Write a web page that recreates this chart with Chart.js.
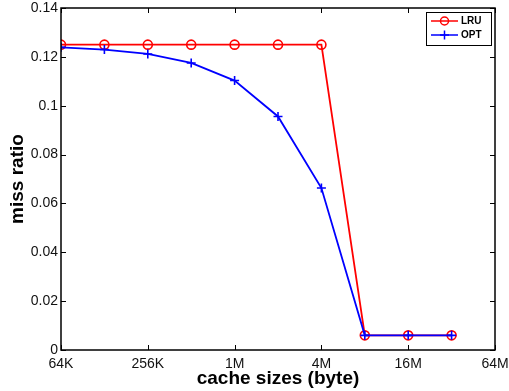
<!DOCTYPE html>
<html>
<head>
<meta charset="utf-8">
<script src="https://cdn.jsdelivr.net/npm/chart.js@4/dist/chart.umd.min.js"></script>
<style>
  html, body { margin: 0; padding: 0; background: #fff; }
  #wrap { width: 509px; height: 391px; }
</style>
</head>
<body>
<div id="wrap"><canvas id="myChart" width="509" height="391"></canvas></div>
<script>
// cache sizes in bytes, 64K .. 32M doubling
var K = 1024, M = 1024 * 1024;
var sizes = [64 * K, 128 * K, 256 * K, 512 * K, 1 * M, 2 * M, 4 * M, 8 * M, 16 * M, 32 * M];
var lru = [0.125, 0.125, 0.125, 0.125, 0.125, 0.125, 0.125, 0.006, 0.006, 0.006];
var opt = [0.1239, 0.1230, 0.1212, 0.1175, 0.1103, 0.0956, 0.0663, 0.006, 0.006, 0.006];
var xTicks = [64 * K, 256 * K, 1 * M, 4 * M, 16 * M, 64 * M];
var xTickLabels = ['64K', '256K', '1M', '4M', '16M', '64M'];
var yTicks = [0, 0.02, 0.04, 0.06, 0.08, 0.1, 0.12, 0.14];

function pts(ys) {
  var out = [];
  for (i = 0; i < sizes.length; i++) out.push({ x: sizes[i], y: ys[i] });
  return out;
}

var FONT = '"Liberation Sans", Arial, Helvetica, sans-serif';

// matlab style box: frame plus inward ticks on all four sides
var boxPlugin = {
  id: 'box',
  afterDatasetsDraw: function(chart) {
    var c = chart.ctx, a = chart.chartArea;
    var xs = chart.scales.x, ys = chart.scales.y;
    var L = 5;
    c.save();
    c.strokeStyle = '#000';
    c.lineWidth = 1;
    c.beginPath();
    xTicks.forEach(function(v) {
      var px = Math.round(xs.getPixelForValue(v)) + 0.5;
      c.moveTo(px, a.bottom); c.lineTo(px, a.bottom - L);
      c.moveTo(px, a.top); c.lineTo(px, a.top + L);
    });
    yTicks.forEach(function(v) {
      var py = Math.round(ys.getPixelForValue(v)) + 0.5;
      c.moveTo(a.left, py); c.lineTo(a.left + L, py);
      c.moveTo(a.right, py); c.lineTo(a.right - L, py);
    });
    c.stroke();
    c.lineWidth = 1.5;
    c.strokeRect(a.left, a.top, a.right - a.left, a.bottom - a.top);
    c.restore();
  }
};

// legend box in the upper right corner
var legendPlugin = {
  id: 'mlegend',
  afterDraw: function(chart) {
    var c = chart.ctx, a = chart.chartArea;
    var w = 65, h = 33;
    var x0 = a.right - w - 4, y0 = a.top + 4;
    c.save();
    c.fillStyle = '#fff';
    c.fillRect(x0, y0, w, h);
    c.strokeStyle = '#000';
    c.lineWidth = 1;
    c.strokeRect(x0 + 0.5, y0 + 0.5, w, h);
    c.font = 'bold 10px ' + FONT;
    c.textBaseline = 'middle';
    chart.data.datasets.forEach(function(ds, k) {
      var yy = y0 + 9 + k * 14;
      c.strokeStyle = ds.borderColor;
      c.lineWidth = 1.5;
      c.beginPath();
      c.moveTo(x0 + 5, yy); c.lineTo(x0 + 32, yy);
      c.stroke();
      c.beginPath();
      if (ds.pointStyle === 'circle') {
        c.arc(x0 + 18.5, yy, 4, 0, Math.PI * 2);
      } else {
        c.moveTo(x0 + 14, yy); c.lineTo(x0 + 23, yy);
        c.moveTo(x0 + 18.5, yy - 4.5); c.lineTo(x0 + 18.5, yy + 4.5);
      }
      c.stroke();
      c.fillStyle = '#000';
      c.fillText(ds.label, x0 + 35, yy + 0.5);
    });
    c.restore();
  }
};

var ctx = document.getElementById('myChart').getContext('2d');
var myChart = new Chart(ctx, {
  type: 'line',
  data: {
    datasets: [
      {
        label: 'LRU', data: pts(lru),
        borderColor: '#ff0000', backgroundColor: 'rgba(0,0,0,0)',
        borderWidth: 1.8, pointStyle: 'circle', pointRadius: 4.5,
        pointBorderWidth: 1.6, pointBorderColor: '#ff0000',
        pointBackgroundColor: 'rgba(0,0,0,0)', tension: 0, order: 2
      },
      {
        label: 'OPT', data: pts(opt),
        borderColor: '#0000ff', backgroundColor: 'rgba(0,0,0,0)',
        borderWidth: 1.8, pointStyle: 'cross', pointRadius: 4.5,
        pointBorderWidth: 1.6, pointBorderColor: '#0000ff',
        tension: 0, order: 1
      }
    ]
  },
  options: {
    responsive: false,
    animation: false,
    layout: { padding: { top: 8, right: 14, left: 6, bottom: 1 } },
    plugins: { legend: { display: false }, tooltip: { enabled: false } },
    scales: {
      x: {
        type: 'logarithmic',
        min: 64 * K, max: 64 * M,
        grid: { display: false, drawTicks: false },
        border: { display: false },
        afterBuildTicks: function(s) { s.ticks = xTicks.map(function(v) { return { value: v }; }); },
        afterFit: function(s) { s.height = 40; s.paddingLeft = 0; s.paddingRight = 0; },
        ticks: {
          color: '#111', padding: 6, maxRotation: 0, autoSkip: false,
          font: { family: FONT, size: 14 },
          callback: function(v) { return xTickLabels[xTicks.indexOf(v)]; }
        },
        title: {
          display: true, text: 'cache sizes (byte)', color: '#000',
          font: { family: FONT, size: 19, weight: 'bold' },
          padding: { top: 0, bottom: 0 }
        }
      },
      y: {
        min: 0, max: 0.14,
        grid: { display: false, drawTicks: false },
        border: { display: false },
        afterBuildTicks: function(s) { s.ticks = yTicks.map(function(v) { return { value: v }; }); },
        afterFit: function(s) { s.width = 55; s.paddingTop = 0; s.paddingBottom = 0; },
        ticks: {
          color: '#111', padding: 3,
          font: { family: FONT, size: 14 },
          callback: function(v) { return String(Math.round(v * 100) / 100); }
        },
        title: {
          display: true, text: 'miss ratio', color: '#000',
          font: { family: FONT, size: 19, weight: 'bold' },
          padding: { top: 0, bottom: 0 }
        }
      }
    }
  },
  plugins: [boxPlugin, legendPlugin]
});
</script>
</body>
</html>
